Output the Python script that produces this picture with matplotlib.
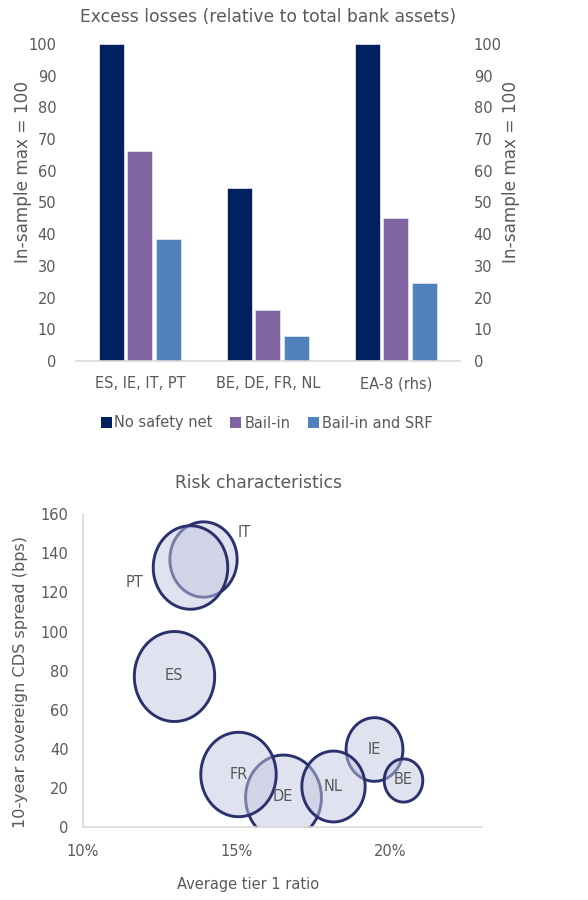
import numpy as np
import matplotlib.pyplot as plt
from matplotlib.path import Path
from matplotlib.patches import Patch

plt.rcParams['font.family'] = ['DejaVu Sans']
plt.rcParams['font.size'] = 10.5
TXT = '#595959'
AX = '#d9d9d9'

# excess losses, in-sample max = 100
groups = ['ES, IE, IT, PT', 'BE, DE, FR, NL', 'EA-8 (rhs)']
series = ['No safety net', 'Bail-in', 'Bail-in and SRF']
no_net = [100, 54.5, 100]
bail_in = [66.2, 16.1, 45.0]
bail_srf = [38.6, 7.9, 24.7]
bar_colors = ['#002060', '#8064a2', '#4f81bd']

# risk characteristics
countries = ['IT', 'PT', 'ES', 'DE', 'FR', 'IE', 'NL', 'BE']
tier1 = [13.91, 13.49, 12.96, 16.51, 15.07, 19.50, 18.15, 20.42]
cds = [137.0, 133.1, 77.4, 15.6, 27.0, 39.9, 20.9, 24.2]
bubble_size = [70, 86, 100, 89, 88, 50, 62, 23]

fig = plt.figure(figsize=(5.88, 9), dpi=100)

# ---- top: bar chart ----
ax1 = fig.add_axes([0.129, 0.599, 0.653, 0.352])
x = np.arange(len(groups))
w = 0.195
step = 0.223
for i, (vals, c) in enumerate(zip([no_net, bail_in, bail_srf], bar_colors)):
    ax1.bar(x + (i - 1) * step, vals, width=w, color=c, edgecolor='#dde3f0',
            linewidth=0.6, zorder=2)
ax1.set_xlim(-0.5, 2.5)
ax1.set_ylim(0, 100)
ax1.set_yticks(range(0, 101, 10))
ax1.set_xticks(x)
ax1.set_xticklabels(groups)
for s in ['top', 'right', 'left']:
    ax1.spines[s].set_visible(False)
ax1.spines['bottom'].set_color(AX)
ax1.spines['bottom'].set_linewidth(1.2)
ax1.tick_params(length=0, colors=TXT, labelsize=10.5)
ax1.tick_params(axis='y', pad=14)
ax1.tick_params(axis='x', pad=11)
ax1.set_ylabel('In-sample max = 100', color=TXT, fontsize=12.2)
ax1.yaxis.set_label_coords(-0.115, 0.595)
ax1.set_title('Excess losses (relative to total bank assets)', color=TXT,
              fontsize=12.3, pad=16)

ax1r = ax1.twinx()
ax1r.set_ylim(0, 100)
ax1r.set_yticks(range(0, 101, 10))
for s in ['top', 'right', 'left', 'bottom']:
    ax1r.spines[s].set_visible(False)
ax1r.tick_params(length=0, colors=TXT, labelsize=10.5, pad=10)
ax1r.set_ylabel('In-sample max = 100', color=TXT, fontsize=12.2)
ax1r.yaxis.set_label_coords(1.109, 0.597)

handles = [Patch(facecolor=c, edgecolor='none') for c in bar_colors]
leg = fig.legend(handles, series, loc='center', bbox_to_anchor=(0.453, 0.530),
                 ncol=3, frameon=False, handlelength=0.75, handleheight=0.75,
                 handletextpad=0.2, columnspacing=1.2, fontsize=10.5)
for t in leg.get_texts():
    t.set_color(TXT)

# ---- bottom: bubble chart ----
ax2 = fig.add_axes([0.1406, 0.0808, 0.679, 0.348])
t = np.linspace(0, 2 * np.pi, 100)
ell = Path(np.column_stack([np.cos(t) / 1.12, np.sin(t)]))
sizes = np.array(bubble_size) * 42.0
for xi, yi, si in zip(tier1, cds, sizes):
    ax2.scatter([xi], [yi], s=si, marker=ell, facecolor=(0.765, 0.78, 0.882, 0.5),
                edgecolor='#2b316e', linewidth=2.1, zorder=2)

offsets = {'IT': (30, 19), 'PT': (-40, -11)}
for c, xi, yi in zip(countries, tier1, cds):
    ax2.annotate(c, (xi, yi), xytext=offsets.get(c, (0, 0)),
                 textcoords='offset points', ha='center', va='center',
                 color=TXT, fontsize=10.5, zorder=3)

ax2.set_xlim(10, 23)
ax2.set_ylim(0, 160)
ax2.set_xticks([10, 15, 20])
ax2.set_xticklabels(['10%', '15%', '20%'])
ax2.set_yticks(range(0, 161, 20))
for s in ['top', 'right']:
    ax2.spines[s].set_visible(False)
for s in ['left', 'bottom']:
    ax2.spines[s].set_color(AX)
    ax2.spines[s].set_linewidth(1.2)
ax2.tick_params(length=0, colors=TXT, labelsize=10.5)
ax2.tick_params(axis='y', pad=10)
ax2.tick_params(axis='x', pad=12)
ax2.set_xlabel('Average tier 1 ratio', color=TXT, fontsize=10.5)
ax2.xaxis.set_label_coords(0.414, -0.159)
ax2.set_ylabel('10-year sovereign CDS spread (bps)', color=TXT, fontsize=11.6)
ax2.yaxis.set_label_coords(-0.137, 0.465)
ax2.set_title('Risk characteristics', color=TXT, fontsize=12.3, pad=19)
ax2.title.set_position((0.44, 1.0))

fig.savefig('out.png', dpi=100)
